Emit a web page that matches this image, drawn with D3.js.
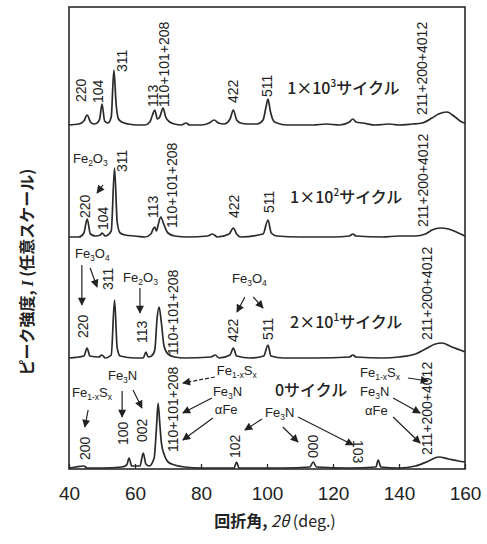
<!DOCTYPE html>
<html>
<head>
<meta charset="utf-8">
<script src="https://cdn.jsdelivr.net/npm/d3@7"></script>
<style>
  body { margin: 0; background: #fff; }
  svg { display: block; }
  .lbl { font-family: "Liberation Sans", Arial, sans-serif; font-size: 14px; fill: #222; }
  .ph { font-family: "Liberation Sans", Arial, sans-serif; font-size: 13px; fill: #222; }
  .cyc { font-family: "Noto Sans CJK JP", sans-serif; font-size: 16px; font-weight: 500; fill: #222; }
  .axis text { font-family: "Liberation Sans", Arial, sans-serif; font-size: 19px; fill: #222; }
</style>
</head>
<body>
<svg width="487" height="544"></svg>
<script>
// diffraction profiles: [2theta (deg), intensity (arb.)]
var cycles1000 = [[40,0],[43,1],[44.5,4],[45.5,10],[46.5,3],[47.5,1],[48.5,2],[49.3,6],[50,21],[50.8,4],[51.8,2],[52.8,8],
  [53.6,55],[54.3,20],[55,6],[56,3],[58,1],[61,0],[63,0],[64.5,3],[65.3,10],[66,15],[66.8,6],[67.5,8],[68.5,17],[69.3,8],
  [70.5,3],[72,1],[74,0],[75.5,2],[76.5,0],[80,0],[82.5,2],[84,5],[85.3,2],[87,1],[88.8,6],[89.8,15],[90.8,5],[92,2],[94,1],
  [97,1],[98.8,5],[99.7,18],[100.3,26],[101,14],[102,4],[103,2],[106,0],[110,0],[114,0],[118,1],[122,0],[125,3],[126,6],
  [127,3],[129,2],[133,0],[137,1],[140,0],[144,1],[147,2],[150,7],[152,11],[154.5,13],[157,8],[159,3],[160,2]];

var cycles100 = [[40,0],[43,0],[44.5,4],[45.5,18],[46.5,3],[48,1],[49.5,2],[50,4],[51,1],[52.8,6],[53.8,69],[54.6,15],
  [55.5,4],[57,2],[60,1],[63,0],[64.8,3],[65.5,8],[66,10],[66.5,6],[67,12],[67.8,20],[68.8,12],[70,4],[72,1],[76,0],
  [82,1],[83.5,3],[85,0],[88.5,3],[89.8,9],[90.8,3],[92,0],[98.8,3],[100.3,17],[101.3,4],[103,1],[110,0],[120,0],
  [125,1],[126,3],[127,1],[135,0],[140,1],[145,1],[148,3],[150,7],[152.5,9],[155,8],[158,4],[160,1]];

var cycles20 = [[40,0],[44.5,2],[45.5,10],[46.3,2],[49,1],[50,3],[51,0],[52.8,3],[53.8,58],[54.6,10],[55.5,2],[60,0],
  [62.5,0],[63.3,6],[64,1],[65,2],[66,8],[66.7,40],[67.3,51],[68,35],[68.8,12],[70,4],[72,1],[75,0],[83,1],[84.3,3],
  [85.5,0],[88.8,3],[89.8,10],[90.8,2],[95,0],[99,2],[100.3,13],[101.2,2],[105,0],[115,0],[125,1],[126,3],[127,1],
  [135,0],[140,1],[145,4],[148,9],[151,14],[153,15],[156,11],[158.5,8],[160,6]];

var cycles0 = [[40,0],[42,1],[44.5,2],[45.5,0],[50,0],[56,1],[57.5,3],[58.2,10],[59,2],[61.5,2],[62.5,15],[63.3,4],
  [64.3,2],[65.8,10],[66.5,40],[67,65],[67.5,45],[68,25],[69,12],[70,6],[72,3],[75,1],[80,0],[90,0],[90.8,6],[91.5,0],
  [100,0],[105,0],[113,1],[114,6],[115,1],[125,0],[133,1],[133.7,8],[134.5,1],[140,0],[145,2],[149,7],[152,11],
  [155,9],[158,7],[160,6]];

var seriesList = [cycles1000, cycles100, cycles20, cycles0];
var panelOffsets = [344, 232, 111, 1];   // stacking offset of each pattern
var thetaTicks = [40, 60, 80, 100, 120, 140, 160];

// cycle labels
var cycleLabels = [
  {pre: "1×10", sup: "3", post: "サイクル", x: 106.1, y: 381},
  {pre: "1×10", sup: "2", post: "サイクル", x: 107, y: 272},
  {pre: "2×10", sup: "1", post: "サイクル", x: 107, y: 147},
  {pre: "0", sup: "", post: "サイクル", x: 102.4, y: 79}
];

// rotated Miller index labels [text, 2theta, level at bottom]
var indexLabels = [
  ["220",43.6,367],["104",48.8,366],["311",56.1,397],["113",65.5,362],["110+101+208",68.8,362],["422",89.7,366],["511",100,372],["211+200+4012",147,354],
  ["220",44.8,251],["104",50.3,239],["311",56.1,297],["113",65.5,251],["110+101+208",71.2,241],["422",90,251],["511",100.6,256],["211+200+4012",147.3,242],
  ["220",44.2,131],["311",51.8,179],["113",62.1,126],["110+101+208",71.5,114],["422",89.7,127],["511",100.3,129],["211+200+4012",148.5,129],
  ["200",44.8,9],["100",56.4,24],["002",62.1,27],["110+101+208",71.5,17],["102",90.3,11],["000",113.9,11],["211+200+4012",148.5,14]
];

// phase labels, "_" marks subscript parts: [text, 2theta, level]
var phaseLabels = [
  ["Fe_2O_3",41.2,306],
  ["Fe_3O_4",41.8,211],["Fe_2O_3",56.4,187],["Fe_3O_4",89.4,186],
  ["Fe_{1-x}S_x",40.9,72],["Fe_3N",51.8,89],["Fe_{1-x}S_x",84.8,94],["Fe_3N",83.6,73],["αFe",84.2,55],
  ["Fe_3N",99.4,52],["Fe_{1-x}S_x",128.2,92],["Fe_3N",128.2,73],["αFe",129.7,54]
];

// arrows [x1, y1, x2, y2, dashed]
var arrows = [
  [50.3,284,48.5,276,false],
  [43.9,204,43.9,164,false],[46.4,201,48.5,182,false],[61.5,181,61.5,156,false],[93.3,172,90.9,157,false],[95.8,172,98.8,161,false],
  [45.8,59,44.8,42,false],[56.1,78,56.1,52,false],[59.4,79,62.1,61,false],[84.2,92,74.5,86,true],[83.3,71,74.5,56,false],
  [83.6,51,74.5,29,false],[98.5,50,93.3,39,false],[104.8,42,109.4,27,false],[109.4,52,126.1,24,false],
  [142.7,91,148.8,88,false],[138.2,71,146.4,56,false],[138.2,52,146.4,26,false]
];

var svg = d3.select("svg");
var margin = {left: 69, right: 22, top: 7, bottom: 75};
var width = 487 - margin.left - margin.right;
var height = 544 - margin.top - margin.bottom;

var x = d3.scaleLinear().domain([40, 160]).range([0, width]);
var y = d3.scaleLinear().domain([0, 462]).range([height, 0]);

var g = svg.append("g").attr("transform", "translate(" + margin.left + "," + margin.top + ")");

svg.append("defs").append("marker")
  .attr("id", "head")
  .attr("viewBox", "0 0 10 10")
  .attr("refX", 9).attr("refY", 5)
  .attr("markerWidth", 9).attr("markerHeight", 8)
  .attr("markerUnits", "userSpaceOnUse")
  .attr("orient", "auto")
  .append("path").attr("d", "M0,0L10,5L0,10z").attr("fill", "#222");

var line = d3.line()
  .x(function(d){ return x(d[0]); })
  .curve(d3.curveMonotoneX);

seriesList.forEach(function(s, i){
  g.append("path")
    .datum(s)
    .attr("fill", "none")
    .attr("stroke", "#2a2a2a")
    .attr("stroke-width", 1.7)
    .attr("stroke-linejoin", "round")
    .attr("d", line.y(function(d){ return y(d[1] + panelOffsets[i]); }));
});

// frame
g.append("rect")
  .attr("width", width).attr("height", height)
  .attr("fill", "none").attr("stroke", "#2a2a2a").attr("stroke-width", 1.6);

var xAxis = d3.axisBottom(x).tickValues(thetaTicks).tickSizeInner(-5).tickSizeOuter(0).tickPadding(18);
var ax = g.append("g").attr("class", "axis").attr("transform", "translate(0," + height + ")").call(xAxis);
ax.select(".domain").remove();
ax.selectAll("line").attr("stroke", "#2a2a2a").attr("stroke-width", 1.3);

// rotated index labels
g.selectAll(".idx")
  .data(indexLabels)
  .enter().append("text")
    .attr("class", "lbl")
    .attr("transform", function(d){ return "translate(" + x(d[1]) + "," + y(d[2]) + ") rotate(-90)"; })
    .attr("dy", "0.35em")
    .text(function(d){ return d[0]; });

// "103" is printed the other way round
g.append("text")
  .attr("class", "lbl")
  .attr("transform", "translate(" + x(127.6) + "," + y(29) + ") rotate(90)")
  .attr("dy", "0.35em")
  .text("103");

// phase labels with subscripts
phaseLabels.forEach(function(d){
  var t = g.append("text").attr("class", "ph")
    .attr("x", x(d[1])).attr("y", y(d[2])).attr("dy", "0.35em");
  var parts = d[0].match(/_\{[^}]*\}|_.|[^_]+/g);
  var sub = false;
  parts.forEach(function(p){
    if (p[0] == "_") {
      var s = p.replace(/^_\{?/, "").replace(/\}$/, "");
      t.append("tspan").attr("font-size", "8.5px").attr("dy", sub ? 0 : 3).text(s);
      sub = true;
    } else {
      t.append("tspan").attr("dy", sub ? -3 : 0).text(p);
      sub = false;
    }
  });
});

// cycle labels
cycleLabels.forEach(function(d){
  var t = g.append("text").attr("class", "cyc")
    .attr("x", x(d.x)).attr("y", y(d.y)).attr("dy", "0.35em");
  t.append("tspan").text(d.pre);
  if (d.sup) {
    t.append("tspan").attr("font-size", "10px").attr("dy", -7).text(d.sup);
    t.append("tspan").attr("dy", 7).text(d.post);
  } else {
    t.append("tspan").text(d.post);
  }
});

// arrows
g.selectAll(".arr")
  .data(arrows)
  .enter().append("line")
    .attr("x1", function(d){ return x(d[0]); })
    .attr("y1", function(d){ return y(d[1]); })
    .attr("x2", function(d){ return x(d[2]); })
    .attr("y2", function(d){ return y(d[3]); })
    .attr("stroke", "#222")
    .attr("stroke-width", 1.2)
    .attr("stroke-dasharray", function(d){ return d[4] ? "4,2" : null; })
    .attr("marker-end", "url(#head)");

// axis titles
var xt = svg.append("text")
  .attr("x", 275).attr("y", 521).attr("dy", "0.35em")
  .attr("text-anchor", "middle")
  .style("font-family", "'Noto Sans CJK JP', sans-serif")
  .style("font-size", "16px").style("font-weight", "bold").style("fill", "#222");
xt.append("tspan").text("回折角, ");
xt.append("tspan").style("font-style", "italic").style("font-weight", "normal").text("2θ");
xt.append("tspan").style("font-weight", "normal").text(" (deg.)");

var yt = svg.append("text")
  .attr("transform", "translate(27,272) rotate(-90)")
  .attr("dy", "0.35em")
  .attr("text-anchor", "middle")
  .style("font-family", "'Noto Sans CJK JP', sans-serif")
  .style("font-size", "16px").style("font-weight", "bold").style("fill", "#222");
yt.append("tspan").text("ピーク強度, ");
yt.append("tspan").style("font-family", "'Liberation Serif', serif").style("font-style", "italic").text("I");
yt.append("tspan").text(" (任意スケール)");
</script>
</body>
</html>
